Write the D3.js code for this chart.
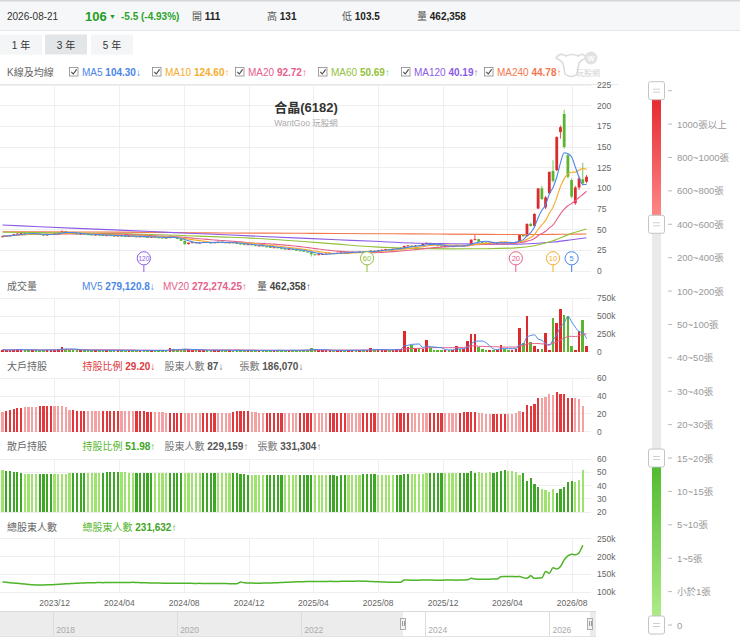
<!DOCTYPE html>
<html>
<head>
<meta charset="utf-8">
<script src="https://cdn.jsdelivr.net/npm/d3@7"></script>
<style>
  body { margin: 0; background: #fff; }
  svg { display: block; font-family: "Liberation Sans", "Noto Sans CJK TC", sans-serif; }
  text { white-space: pre; }
</style>
</head>
<body>
<svg id="chart" width="740" height="638"></svg>
<script>
// ---- data (weekly, 2023-08-25 .. 2026-08-28) ----
// [open, high, low, close]
const weeklyOHLC = [
  [41.5,42.8,41.0,42.0],[42.0,43.0,41.6,42.6],[42.6,43.8,42.2,43.2],[43.2,45.0,43.0,44.5],[44.5,45.8,44.2,45.2],
  [45.2,46.5,44.9,45.8],[45.8,46.0,44.6,45.0],[45.0,45.4,44.2,44.6],[44.6,45.8,44.4,45.3],[45.3,45.6,44.4,44.8],
  [44.8,45.0,43.6,44.0],[44.0,44.3,42.6,43.2],[43.2,44.5,43.0,44.1],[44.1,45.4,43.9,45.0],[45.0,46.0,44.8,45.6],
  [45.6,47.0,45.4,46.5],[46.5,49.2,46.2,48.2],[48.2,48.5,46.2,46.6],[46.6,46.9,45.4,45.8],[45.8,46.1,44.9,45.2],
  [45.2,45.5,44.2,44.6],[44.6,45.6,44.4,45.1],[45.1,45.3,44.1,44.5],[44.5,44.8,43.9,44.2],[44.2,44.5,43.5,43.8],
  [43.8,44.4,43.5,44.0],[44.0,44.2,43.1,43.5],[43.5,43.8,42.6,43.0],[43.0,43.8,42.8,43.4],[43.4,43.6,42.5,42.8],
  [42.8,43.0,42.1,42.5],[42.5,43.3,42.3,42.9],[42.9,43.1,42.0,42.3],[42.3,42.6,41.7,42.0],[42.0,42.8,41.8,42.4],
  [42.4,42.6,41.5,41.8],[41.8,42.0,41.2,41.5],[41.5,42.3,41.3,41.9],[41.9,42.1,40.9,41.2],[41.2,41.5,40.7,41.0],
  [41.0,41.8,40.8,41.4],[41.4,41.6,40.5,40.8],[40.8,41.0,40.2,40.5],[40.5,40.8,39.9,40.2],[40.2,40.5,39.4,39.8],
  [39.8,42.8,39.6,42.0],[42.0,42.3,40.3,40.6],[40.6,40.9,38.5,38.8],[38.8,39.1,36.2,36.5],[36.5,36.8,31.8,32.5],
  [32.5,34.6,32.2,34.2],[34.2,35.2,33.9,34.8],[34.8,35.0,33.3,33.6],[33.6,34.9,33.4,34.5],[34.5,35.6,34.3,35.2],
  [35.2,35.4,34.3,34.6],[34.6,34.9,33.6,33.9],[33.9,35.1,33.7,34.8],[34.8,35.8,34.6,35.4],[35.4,35.6,34.4,34.7],
  [34.7,35.0,33.7,34.0],[34.0,34.9,33.8,34.6],[34.6,34.8,33.5,33.8],[33.8,34.1,32.9,33.2],[33.2,33.5,32.2,32.5],
  [32.5,32.8,31.5,31.8],[31.8,32.7,31.6,32.4],[32.4,32.6,30.9,31.2],[31.2,31.5,30.2,30.5],[30.5,31.2,30.3,30.9],
  [30.9,31.1,29.5,29.8],[29.8,30.1,28.9,29.2],[29.2,29.5,28.1,28.4],[28.4,29.1,28.2,28.8],[28.8,29.0,27.3,27.6],
  [27.6,27.9,26.7,27.0],[27.0,27.2,26.0,26.3],[26.3,27.1,26.1,26.8],[26.8,27.0,25.4,25.7],[25.7,26.0,24.7,25.0],
  [25.0,25.3,24.1,24.4],[24.4,24.7,23.2,23.5],[23.5,23.8,22.5,22.8],[22.8,23.0,17.5,20.2],[20.2,20.8,18.9,19.6],
  [19.6,20.6,19.3,20.3],[20.3,20.9,20.0,20.6],[20.6,21.3,20.4,21.0],[21.0,21.8,20.8,21.5],[21.5,21.7,20.9,21.2],
  [21.2,22.3,21.0,22.0],[22.0,22.7,21.8,22.4],[22.4,22.6,21.8,22.1],[22.1,23.1,21.9,22.8],[22.8,23.5,22.6,23.2],
  [23.2,23.4,22.6,22.9],[22.9,23.7,22.7,23.4],[23.4,23.6,22.7,23.0],[23.0,23.9,22.8,23.6],[23.6,25.2,23.4,24.5],
  [24.5,24.8,23.9,24.2],[24.2,25.3,24.0,25.0],[25.0,26.1,24.8,25.8],[25.8,26.8,25.6,26.4],[26.4,26.6,25.7,26.0],
  [26.0,27.3,25.8,27.0],[27.0,27.9,26.8,27.6],[27.6,28.5,27.4,28.2],[28.2,31.0,28.0,30.2],[30.2,31.3,29.9,30.8],
  [30.8,31.0,29.7,30.0],[30.0,31.2,29.8,30.9],[30.9,31.4,30.3,30.6],[30.6,33.4,30.4,32.8],[32.8,34.8,32.6,34.0],
  [34.0,34.3,32.3,32.6],[32.6,32.9,31.1,31.4],[31.4,31.7,30.3,30.6],[30.6,30.9,29.5,29.8],[29.8,30.5,29.6,30.2],
  [30.2,30.4,29.3,29.6],[29.6,30.4,29.4,30.1],[30.1,31.6,29.9,31.2],[31.2,31.4,30.1,30.4],[30.4,31.1,30.2,30.8],
  [30.8,32.0,30.6,31.5],[31.5,38.4,31.3,37.8],[37.8,44.0,37.5,38.5],[38.5,38.8,35.1,35.4],[35.4,35.7,34.3,34.6],
  [34.6,34.9,33.7,34.0],[34.0,34.8,33.8,34.3],[34.3,34.5,33.3,33.6],[33.6,34.3,33.4,33.9],[33.9,35.8,33.7,35.2],
  [35.2,35.4,34.2,34.5],[34.5,34.7,33.8,34.1],[34.1,34.9,33.9,34.6],[34.6,35.4,34.3,35.0],[35.0,44.5,34.8,44.0],
  [44.0,45.0,41.5,42.0],[42.0,57.5,41.8,57.0],[57.0,58.5,53.5,54.5],[54.5,70.0,54.0,69.0],[75.5,100.0,75.0,100.0],
  [100.0,103.0,86.0,87.0],[77.0,91.0,75.0,89.0],[94.0,120.0,93.0,120.0],[121.0,134.0,107.0,109.0],[122.0,163.0,121.0,162.0],
  [168.0,176.0,160.0,174.0],[190.0,195.0,148.0,150.0],[140.0,142.0,112.0,114.0],[110.0,112.0,88.0,90.0],[82.0,103.0,80.0,101.0],
  [101.0,114.0,98.0,112.0],[111.0,131.0,103.5,106.0],[108.0,116.0,106.0,114.0]
];

// weekly volume (張), same weeks
const weeklyVolume = [
  28,22,25,30,34,26,20,24,29,22,18,26,30,24,27,33,
  70,
  36,28,24,20,26,22,18,21,25,19,17,23,20,18,
  22,19,16,20,24,18,15,19,22,17,14,18,21,16,
  52,
  34,28,30,42,36,24,20,26,22,18,21,25,19,17,22,
  18,16,20,23,17,19,22,18,15,19,24,17,20,23,18,16,21,25,19,22,26,24,
  45,33,24,
  19,22,18,16,20,23,17,21,19,24,18,22,26,
  52,
  24,28,22,26,30,25,33,38,
  290,60,94,48,52,38,164,48,28,24,20,26,22,30,85,35,40,145,249,245,70,36,28,24,30,26,100,32,25,28,35,
  337,123,500,140,85,40,35,262,25,469,400,600,515,500,80,25,290,445,80
].map(v => v * 1000);

// 大戶持股比例 (%), weekly through 2026-08-21
const bigHolderPct = [
  22.5,23.6,24.5,25.4,26.3,26.8,27.3,27.7,28.1,
  28.3,28.4,28.5,28.6,28.6,28.7,28.8,28.9,27.6,
  24.4,24.0,23.8,23.6,23.7,23.5,23.6,23.4,23.6,
  23.5,23.6,23.7,23.8,23.6,23.5,23.4,23.6,23.5,23.3,23.2,23.0,22.6,22.3,22.0,21.8,21.6,21.4,
  21.0,21.0,20.9,21.1,21.0,20.8,20.9,21.0,21.1,20.9,20.8,21.0,21.1,20.9,21.0,21.2,21.4,22.0,
  22.8,23.5,23.6,23.2,
  22.3,21.8,21.5,21.3,21.2,21.0,21.1,21.0,20.9,21.0,20.8,20.9,21.0,20.8,20.7,20.8,20.9,21.0,
  20.8,20.7,20.9,21.0,20.8,20.6,20.7,20.8,20.6,20.7,20.8,20.9,20.7,20.6,20.8,20.7,20.6,
  20.6,20.7,20.6,20.8,20.9,21.0,21.2,21.4,21.3,21.1,21.0,21.2,21.4,21.2,21.0,20.9,20.8,21.0,21.1,21.0,21.2,21.3,
  21.6,21.8,22.0,21.8,
  20.9,20.6,20.4,20.3,20.4,20.2,20.1,20.3,20.2,20.0,20.5,
  23.3,22.5,30.0,28.7,31.0,37.5,38.4,39.0,42.3,41.5,44.2,42.3,42.0,38.4,37.5,38.0,36.5,29.2
];

// 散戶持股比例 (%)
const smallHolderPct = [
  51.7,51.2,50.8,50.5,50.0,
  49.2,48.9,48.7,48.7,48.6,48.7,48.8,48.6,48.7,48.8,48.7,48.6,48.9,49.2,
  49.5,49.6,49.5,49.4,49.6,49.5,49.7,49.6,49.8,49.9,50.0,50.1,50.0,49.9,50.1,49.8,49.7,49.6,49.5,49.6,
  49.5,49.4,49.6,49.5,49.6,49.5,49.4,
  49.5,49.6,49.5,49.7,49.6,49.5,49.4,49.6,49.5,49.6,49.7,49.5,49.6,49.5,49.4,49.6,49.5,49.3,49.0,48.5,
  48.2,48.0,48.1,47.9,48.0,48.1,47.9,48.0,47.8,47.9,47.8,47.7,47.8,47.9,47.8,47.7,47.8,47.9,47.8,47.7,
  47.8,47.9,47.8,47.7,47.6,47.7,47.8,47.9,47.8,48.0,48.3,48.5,48.7,48.6,48.5,
  48.3,48.0,47.9,48.0,48.1,47.9,48.0,48.8,49.0,48.9,49.1,49.0,48.9,49.4,49.5,49.6,49.5,49.4,49.6,49.5,
  49.7,49.5,49.6,49.4,49.5,
  51.0,49.8,49.9,49.7,49.8,49.9,49.8,50.0,51.0,51.5,51.2,51.0,50.0,48.0,49.5,
  43.7,45.5,41.3,38.8,37.8,36.8,35.3,37.3,34.8,37.8,38.8,42.8,43.8,43.0,44.3,51.98
];

// 總股東人數 (thousand)
const totalHolders = [
  129,128,127,126,125,124,123,122,121,
  120.5,120.3,120.5,120.8,121.2,121.8,122.4,123.0,123.6,124.2,
  124.8,125.3,125.8,126.2,126.5,126.8,127.0,127.2,127.0,127.3,127.5,127.2,127.4,127.6,127.3,127.5,127.8,127.4,
  127.0,126.6,126.4,126.2,126.0,125.8,125.6,125.5,125.4,125.2,125.0,125.2,125.3,125.1,125.0,124.9,125.0,124.8,
  124.7,124.8,124.6,124.5,124.4,124.3,124.2,124.0,123.8,
  129.0,126.5,126.0,125.8,125.6,125.5,125.7,125.9,126.2,126.6,127.0,127.5,128.0,128.4,128.8,129.2,
  129.5,129.8,130.0,130.2,130.1,130.3,130.5,130.4,130.6,130.5,130.3,130.6,130.8,131.0,130.8,131.2,131.4,131.0,
  130.6,130.2,129.8,129.4,129.0,128.6,128.2,128.0,127.8,128.0,
  134.5,134.2,134.0,133.8,134.0,134.2,134.1,134.3,134.0,133.8,134.0,134.2,134.4,134.2,134.0,134.3,134.6,135.0,
  139.0,137.0,136.5,136.3,136.5,136.8,137.0,137.5,143.5,144.0,144.2,144.0,143.8,144.0,141.0,
  139.0,146.0,139.0,140.0,140.5,158.0,153.0,169.0,165.0,172.0,190.7,202.0,206.7,205.0,211.0,231.6
].map(v => v * 1000);

// long moving averages at sample weeks
const maSampleWeek = [0, 10, 20, 30, 40, 50, 60, 70, 80, 90, 100, 110, 120, 130, 138, 143, 148, 153, 157];
const ma60Sample  = [46.8,46.4,46.0,45.2,44.2,42.6,41.0,39.0,36.0,32.5,29.2,27.4,26.8,27.0,28.0,30.5,36.5,45.5,50.7];
const ma120Sample = [55.6,53.6,51.6,49.7,47.7,45.7,43.8,41.8,39.8,37.8,35.9,33.9,33.0,32.5,32.3,33.2,35.0,37.8,40.2];
const ma240Sample = [47.5,47.4,47.2,47.0,46.7,46.3,46.0,45.8,45.6,45.4,45.1,44.9,44.6,44.3,44.2,44.2,44.3,44.5,44.8];

const maNames  = ['MA5', 'MA10', 'MA20', 'MA60', 'MA120', 'MA240'];
const maLast   = ['104.30', '124.60', '92.72', '50.69', '40.19', '44.78'];
const maArrows = ['↓', '↑', '↑', '↑', '↑', '↑'];
const markerPeriods = [120, 60, 20, 10, 5];

const xTickLabels = ['2023/12','2024/04','2024/08','2024/12','2025/04','2025/08','2025/12','2026/04','2026/08'];
const navYears = ['2018', '2020', '2022', '2024', '2026'];
const sliderLabels = ['', '1000張以上', '800~1000張', '600~800張', '400~600張', '200~400張', '100~200張',
  '50~100張', '40~50張', '30~40張', '20~30張', '15~20張', '10~15張', '5~10張', '1~5張', '小於1張', '0'];

// ---- styles ----
const UP = '#dd2a2f', DOWN = '#5cb531';
const maColors = ['#4a86e8', '#f5ac2c', '#e5608a', '#93c13c', '#8c5ce6', '#f3774f'];
const markerColors = { 120: '#8c5ce6', 60: '#93c13c', 20: '#e5608a', 10: '#f5ac2c', 5: '#4a86e8' };
const GRID = '#efefef', AXIS_TXT = '#666';

const svg = d3.select('#chart');
const defs = svg.append('defs');
defs.append('clipPath').attr('id', 'plotClip').append('rect')
  .attr('x', 0).attr('y', 84).attr('width', 591).attr('height', 190);

// ---- header ----
svg.append('rect').attr('x', 0).attr('y', 0).attr('width', 740).attr('height', 30).attr('fill', '#f6f7f8');
svg.append('rect').attr('x', 0).attr('y', 0).attr('width', 740).attr('height', 1.5).attr('fill', '#d6d6d6');
svg.append('line').attr('x1', 0).attr('x2', 740).attr('y1', 30.5).attr('y2', 30.5).attr('stroke', '#e6e6e6');

function rich(x, y, parts, size) {
  const t = svg.append('text').attr('x', x).attr('y', y).attr('font-size', size || 10)
    .attr('dominant-baseline', 'central');
  parts.forEach(p => t.append('tspan').text(p[0]).attr('fill', p[1])
    .attr('font-weight', p[2] || 400).attr('font-size', p[3] || null));
  return t;
}

rich(7, 16, [['2026-08-21', '#333']], 10);
rich(85, 15.5, [['106', '#1f9e1f', 700]], 13);
rich(109, 15.5, [['▼', '#1f9e1f', 400, 7]], 7);
rich(121, 16, [['-5.5 (-4.93%)', '#2aa52a', 700]], 10);
const quoteLabels = ['開', '高', '低', '量'];
const quoteValues = ['111', '131', '103.5', '462,358'];
const quoteX = [192, 267, 342, 417];
quoteLabels.forEach((l, i) => rich(quoteX[i], 16, [[l + ' ', '#555'], [quoteValues[i], '#222', 700]], 10));

// range buttons
const rangeBtns = ['1 年', '3 年', '5 年'];
const btnX = [0, 45, 91];
rangeBtns.forEach((b, i) => {
  svg.append('rect').attr('x', btnX[i]).attr('y', 34.5).attr('width', 42).attr('height', 20)
    .attr('fill', i === 1 ? '#e3e6e9' : '#f4f5f6');
  svg.append('text').attr('x', btnX[i] + 21).attr('y', 45).attr('text-anchor', 'middle')
    .attr('dominant-baseline', 'central').attr('font-size', 10).attr('fill', '#333').text(b);
});

// ---- legend row ----
rich(7, 72, [['K線及均線', '#666']], 10);
const legX = [69, 152, 235, 318, 401, 484];
maNames.forEach((n, i) => {
  const g = svg.append('g');
  g.append('rect').attr('x', legX[i] + 0.5).attr('y', 67.5).attr('width', 8.5).attr('height', 8.5)
    .attr('fill', '#fff').attr('stroke', '#8a8a8a').attr('stroke-width', 0.8);
  g.append('path').attr('d', `M${legX[i] + 2.3},71.8 L${legX[i] + 4.3},74 L${legX[i] + 7.6},69.4`)
    .attr('fill', 'none').attr('stroke', '#444').attr('stroke-width', 1.1);
  rich(legX[i] + 13, 72, [[n + ' ', maColors[i]], [maLast[i], maColors[i], 700], [maArrows[i], maColors[i]]], 10);
});

// watermark logo
const logo = svg.append('g').attr('fill', 'none').attr('stroke', '#dcdcdc').attr('stroke-width', 1.6);
logo.append('path').attr('d', 'M556,58 Q560,52 566,56 Q572,53 578,56 Q584,52 586,58 Q581,60 579,63 L577,74 Q571,79 565,74 L563,63 Q560,60 556,58 Z');
svg.append('circle').attr('cx', 591).attr('cy', 58).attr('r', 6.5).attr('fill', '#e2e2e2');
svg.append('text').attr('x', 591).attr('y', 60.5).attr('text-anchor', 'middle').attr('font-size', 7)
  .attr('font-weight', 700).attr('fill', '#fff').text('W');
svg.append('text').attr('x', 588).attr('y', 76).attr('text-anchor', 'middle').attr('font-size', 8)
  .attr('fill', '#d2d2d2').text('玩股網');

svg.append('line').attr('x1', 0).attr('x2', 618).attr('y1', 84.5).attr('y2', 84.5).attr('stroke', '#e8e8e8');

// ---- scales ----
const weeks = weeklyOHLC.map((d, i) => d3.timeDay.offset(new Date(2023, 7, 25), 7 * i));
const x = d3.scaleTime().domain([weeks[0], weeks[weeks.length - 1]]).range([2.5, 586.5]);
const xi = i => x(weeks[i]);
const tickDates = xTickLabels.map(d3.timeParse('%Y/%m'));

const panels = {
  price: d3.scaleLinear().domain([0, 225]).range([271, 85]),
  vol: d3.scaleLinear().domain([0, 750000]).range([351.7, 298.3]),
  big: d3.scaleLinear().domain([0, 60]).range([431.7, 378.3]),
  small: d3.scaleLinear().domain([20, 60]).range([512.3, 459]),
  total: d3.scaleLinear().domain([100000, 250000]).range([592.3, 538.7])
};
const panelTicks = {
  price: d3.range(0, 226, 25),
  vol: [0, 250000, 500000, 750000],
  big: [0, 20, 40, 60],
  small: [20, 30, 40, 50, 60],
  total: [100000, 150000, 200000, 250000]
};
const kfmt = v => v === 0 ? '0' : (v / 1000) + 'k';
const panelFmt = { price: d3.format('d'), vol: kfmt, big: d3.format('d'), small: d3.format('d'), total: kfmt };

Object.keys(panels).forEach(k => {
  const y = panels[k];
  const [y0, y1] = y.range();
  const g = svg.append('g').attr('shape-rendering', 'crispEdges');
  g.selectAll('.hg').data(panelTicks[k]).join('line')
    .attr('x1', 0).attr('x2', 591).attr('y1', d => y(d)).attr('y2', d => y(d))
    .attr('stroke', GRID);
  g.selectAll('.vg').data(tickDates).join('line')
    .attr('x1', d => x(d)).attr('x2', d => x(d)).attr('y1', y1).attr('y2', y0)
    .attr('stroke', GRID);
  svg.append('g').selectAll('text').data(panelTicks[k]).join('text')
    .attr('x', 597).attr('y', d => y(d)).attr('dominant-baseline', 'central')
    .attr('font-size', 8.5).attr('fill', AXIS_TXT).text(panelFmt[k]);
});

// ---- price panel ----
const yP = panels.price;
const closes = weeklyOHLC.map(d => d[3]);
const rolling = (vals, n) => vals.map((v, i) => d3.mean(vals.slice(Math.max(0, i - n + 1), i + 1)));
const pricePlot = svg.append('g').attr('clip-path', 'url(#plotClip)');

const candle = pricePlot.selectAll('g.c').data(weeklyOHLC).join('g');
candle.append('line')
  .attr('x1', (d, i) => xi(i)).attr('x2', (d, i) => xi(i))
  .attr('y1', d => yP(d[1])).attr('y2', d => yP(d[2]))
  .attr('stroke', d => d[3] >= d[0] ? UP : DOWN).attr('stroke-width', 0.8);
candle.append('rect')
  .attr('x', (d, i) => xi(i) - 1.4).attr('width', 2.8)
  .attr('y', d => yP(Math.max(d[0], d[3])))
  .attr('height', d => Math.max(1, Math.abs(yP(d[0]) - yP(d[3]))))
  .attr('fill', d => d[3] >= d[0] ? UP : DOWN);

const lineIdx = d3.line().x(d => xi(d[0])).y(d => yP(d[1])).curve(d3.curveMonotoneX);
[
  maSampleWeek.map((w, i) => [w, ma240Sample[i]]),
  maSampleWeek.map((w, i) => [w, ma120Sample[i]]),
  maSampleWeek.map((w, i) => [w, ma60Sample[i]])
].forEach((pts, k) => {
  pricePlot.append('path').attr('d', lineIdx(pts)).attr('fill', 'none')
    .attr('stroke', maColors[5 - k]).attr('stroke-width', 1.1);
});
[20, 10, 5].forEach((n, k) => {
  const vals = rolling(closes, n).map((v, i) => [i, v]);
  pricePlot.append('path').attr('d', lineIdx(vals)).attr('fill', 'none')
    .attr('stroke', maColors[2 - k]).attr('stroke-width', 1.1);
});

// MA window markers
markerPeriods.forEach(p => {
  const cx = xi(weeklyOHLC.length - p);
  const c = markerColors[p];
  svg.append('line').attr('x1', cx).attr('x2', cx).attr('y1', 265).attr('y2', 272)
    .attr('stroke', c).attr('stroke-width', 1);
  svg.append('circle').attr('cx', cx).attr('cy', 258.3).attr('r', 6.6)
    .attr('fill', '#fff').attr('stroke', c).attr('stroke-width', 1);
  svg.append('text').attr('x', cx).attr('y', 258.6).attr('text-anchor', 'middle')
    .attr('dominant-baseline', 'central').attr('font-size', p >= 100 ? 6.5 : 7.5)
    .attr('fill', c).text(p);
});

// title
svg.append('text').attr('x', 306).attr('y', 107).attr('text-anchor', 'middle')
  .attr('dominant-baseline', 'central').attr('font-size', 13).attr('font-weight', 700)
  .attr('fill', '#333').text('合晶(6182)');
svg.append('text').attr('x', 306).attr('y', 122.5).attr('text-anchor', 'middle')
  .attr('dominant-baseline', 'central').attr('font-size', 8.5).attr('fill', '#aaa').text('WantGoo 玩股網');

// ---- volume panel ----
rich(7, 286, [['成交量', '#666']], 10);
rich(82, 286, [['MV5 ', maColors[0]], ['279,120.8', maColors[0], 700], ['↓', maColors[0]]], 10);
rich(163, 286, [['MV20 ', maColors[2]], ['272,274.25', maColors[2], 700], ['↑', maColors[2]]], 10);
rich(257, 286, [['量 ', '#555'], ['462,358', '#444', 700], ['↑', '#555']], 10);

const yV = panels.vol;
svg.append('g').attr('shape-rendering', 'crispEdges').selectAll('rect').data(weeklyVolume).join('rect')
  .attr('x', (d, i) => xi(i) - 1.3).attr('width', 2.6)
  .attr('y', d => yV(d)).attr('height', d => yV(0) - yV(d))
  .attr('fill', (d, i) => weeklyOHLC[i][3] >= weeklyOHLC[i][0] ? UP : DOWN);
const vLine = d3.line().x((d, i) => xi(i)).y(d => yV(d)).curve(d3.curveMonotoneX);
svg.append('path').attr('d', vLine(rolling(weeklyVolume, 20))).attr('fill', 'none')
  .attr('stroke', maColors[2]).attr('stroke-width', 1);
svg.append('path').attr('d', vLine(rolling(weeklyVolume, 5))).attr('fill', 'none')
  .attr('stroke', maColors[0]).attr('stroke-width', 1);

// ---- 大戶持股 ----
const gray = '#777', grayB = '#555';
rich(7, 366, [['大戶持股', '#666']], 10);
rich(82.5, 366, [['持股比例 ', '#e0393e'], ['29.20', '#e0393e', 700], ['↓', '#e0393e']], 10);
rich(164.5, 366, [['股東人數 ', gray], ['87', grayB, 700], ['↓', gray]], 10);
rich(239.5, 366, [['張數 ', gray], ['186,070', grayB, 700], ['↓', gray]], 10);

const yB = panels.big;
svg.append('g').attr('shape-rendering', 'crispEdges').selectAll('rect').data(bigHolderPct).join('rect')
  .attr('x', (d, i) => xi(i) - 1.1).attr('width', 2.2)
  .attr('y', d => yB(d)).attr('height', d => yB(0) - yB(d))
  .attr('fill', (d, i) => weeks[i].getMonth() % 2 ? '#f3a2a4' : '#e0383d');

// ---- 散戶持股 ----
rich(7, 446, [['散戶持股', '#666']], 10);
rich(82.5, 446, [['持股比例 ', '#56b52c'], ['51.98', '#3ea51e', 700], ['↑', '#56b52c']], 10);
rich(164.5, 446, [['股東人數 ', gray], ['229,159', grayB, 700], ['↑', gray]], 10);
rich(257.5, 446, [['張數 ', gray], ['331,304', grayB, 700], ['↑', gray]], 10);

const yS = panels.small;
svg.append('g').attr('shape-rendering', 'crispEdges').selectAll('rect').data(smallHolderPct).join('rect')
  .attr('x', (d, i) => xi(i) - 1.1).attr('width', 2.2)
  .attr('y', d => yS(d)).attr('height', d => yS(20) - yS(d))
  .attr('fill', (d, i) => weeks[i].getMonth() % 2 ? '#9fe270' : '#3fa526');

// ---- 總股東人數 ----
rich(7, 526.5, [['總股東人數', '#666']], 10);
rich(82.5, 526.5, [['總股東人數 ', '#56b52c'], ['231,632', '#3ea51e', 700], ['↑', '#56b52c']], 10);
const yT = panels.total;
svg.append('path')
  .attr('d', d3.line().x((d, i) => xi(i)).y(d => yT(d)).curve(d3.curveMonotoneX)(totalHolders))
  .attr('fill', 'none').attr('stroke', '#4fb42a').attr('stroke-width', 1.5);

// ---- x axis labels ----
svg.append('g').selectAll('text').data(tickDates).join('text')
  .attr('x', d => x(d)).attr('y', 603).attr('text-anchor', 'middle')
  .attr('dominant-baseline', 'central').attr('font-size', 8.5).attr('fill', AXIS_TXT)
  .text((d, i) => xTickLabels[i]);

// ---- navigator ----
const xNav = d3.scaleTime().domain([new Date(2017, 1, 22), weeks[weeks.length - 1]]).range([0, 590]);
const nav = svg.append('g').attr('shape-rendering', 'crispEdges');
nav.append('rect').attr('x', 0).attr('y', 612).attr('width', 596).attr('height', 24).attr('fill', '#fff');
nav.append('rect').attr('x', 0).attr('y', 612).attr('width', xNav(weeks[0])).attr('height', 24)
  .attr('fill', '#ececec');
nav.append('rect').attr('x', xNav(weeks[weeks.length - 1])).attr('y', 612).attr('width', 6).attr('height', 24)
  .attr('fill', '#ececec');
nav.append('line').attr('x1', 0).attr('x2', 596).attr('y1', 611.5).attr('y2', 611.5).attr('stroke', '#d9d9d9');
nav.append('line').attr('x1', 0).attr('x2', 596).attr('y1', 636.5).attr('y2', 636.5).attr('stroke', '#e2e2e2');
const navDates = navYears.map(d3.timeParse('%Y'));
nav.selectAll('.ny').data(navDates).join('line')
  .attr('x1', d => xNav(d)).attr('x2', d => xNav(d)).attr('y1', 612).attr('y2', 636)
  .attr('stroke', '#dcdcdc');
svg.append('g').selectAll('text').data(navDates).join('text')
  .attr('x', d => xNav(d) + 3).attr('y', 630).attr('dominant-baseline', 'central')
  .attr('font-size', 8.5).attr('fill', '#aaa').text((d, i) => navYears[i]);
[weeks[0], weeks[weeks.length - 1]].forEach(d => {
  const hx = xNav(d);
  nav.append('rect').attr('x', hx - 2.5).attr('y', 618).attr('width', 5).attr('height', 11)
    .attr('fill', '#f2f2f2').attr('stroke', '#9a9a9a').attr('stroke-width', 0.8);
  nav.append('line').attr('x1', hx - 0.5).attr('x2', hx - 0.5).attr('y1', 621).attr('y2', 626).attr('stroke', '#999');
  nav.append('line').attr('x1', hx + 1).attr('x2', hx + 1).attr('y1', 621).attr('y2', 626).attr('stroke', '#999');
});

// ---- holder-size range slider ----
const ys = d3.scalePoint().domain(d3.range(sliderLabels.length)).range([90.7, 625]);
const trackX = 652, trackW = 9;
const gRed = defs.append('linearGradient').attr('id', 'gRed').attr('x1', 0).attr('x2', 0).attr('y1', 0).attr('y2', 1);
gRed.append('stop').attr('offset', 0).attr('stop-color', '#e3242b');
gRed.append('stop').attr('offset', 1).attr('stop-color', '#ff8e8e');
const gGreen = defs.append('linearGradient').attr('id', 'gGreen').attr('x1', 0).attr('x2', 0).attr('y1', 0).attr('y2', 1);
gGreen.append('stop').attr('offset', 0).attr('stop-color', '#4cb82a');
gGreen.append('stop').attr('offset', 1).attr('stop-color', '#b3ee8c');

svg.append('rect').attr('x', trackX).attr('y', ys(0)).attr('width', trackW).attr('height', ys(16) - ys(0))
  .attr('fill', '#e9eaeb');
svg.append('rect').attr('x', trackX).attr('y', ys(0)).attr('width', trackW).attr('height', ys(4) - ys(0))
  .attr('fill', 'url(#gRed)');
svg.append('rect').attr('x', trackX).attr('y', ys(11)).attr('width', trackW).attr('height', ys(16) - ys(11))
  .attr('fill', 'url(#gGreen)');

const sl = svg.append('g');
sl.selectAll('line').data(d3.range(sliderLabels.length)).join('line')
  .attr('x1', 668).attr('x2', 672).attr('y1', d => ys(d)).attr('y2', d => ys(d))
  .attr('stroke', '#bbb');
sl.selectAll('text').data(sliderLabels).join('text')
  .attr('x', 677).attr('y', (d, i) => ys(i)).attr('dominant-baseline', 'central')
  .attr('font-size', 9.5).attr('fill', '#999').text(d => d);

[0, 4, 11, 16].forEach(k => {
  const cy = ys(k);
  svg.append('rect').attr('x', 648.5).attr('y', cy - 9).attr('width', 16).attr('height', 18).attr('rx', 2)
    .attr('fill', '#fff').attr('stroke', '#c4c4c4');
  [-1.5, 1.5].forEach(dy => svg.append('line').attr('x1', 653).attr('x2', 660)
    .attr('y1', cy + dy).attr('y2', cy + dy).attr('stroke', '#d0d0d0'));
});
</script>
</body>
</html>
